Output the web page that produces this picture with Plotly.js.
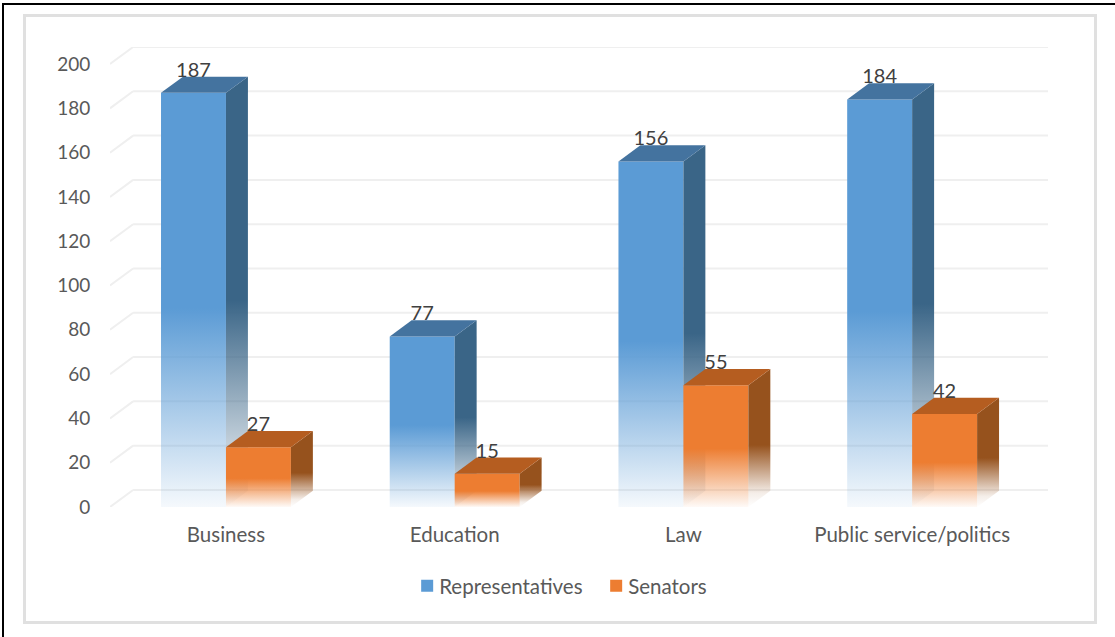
<!DOCTYPE html>
<html>
<head>
<meta charset="utf-8">
<script src="https://cdn.plot.ly/plotly-3.0.1.min.js"></script>
<style>
html,body{margin:0;padding:0;background:#fff;width:1115px;height:637px;overflow:hidden}
#outer{position:absolute;left:2px;top:3px;width:1111px;height:632px;border-left:2px solid #000;border-top:2px solid #000;border-right:1px solid #555;border-bottom:1px solid #555}
#inner{position:absolute;left:23px;top:14px;width:1068px;height:604px;border:3px solid #e0e0e0}
#chart{position:absolute;left:0;top:0;width:1115px;height:637px}
#defs{position:absolute;width:0;height:0}
</style>
</head>
<body>
<div id="outer"></div>
<div id="inner"></div>
<svg id="defs"><defs>
<linearGradient id="gRep" x1="0" y1="0" x2="0" y2="1"><stop offset="0.52" stop-color="#5B9BD5"/><stop offset="1" stop-color="#5B9BD5" stop-opacity="0.06"/></linearGradient>
<linearGradient id="gSen" x1="0" y1="0" x2="0" y2="1"><stop offset="0.52" stop-color="#ED7D31"/><stop offset="1" stop-color="#ED7D31" stop-opacity="0.04"/></linearGradient>
<linearGradient id="gRepSide" x1="0" y1="0" x2="0" y2="1"><stop offset="0.52" stop-color="#3A6587"/><stop offset="1" stop-color="#3A6587" stop-opacity="0"/></linearGradient>
<linearGradient id="gSenSide" x1="0" y1="0" x2="0" y2="1"><stop offset="0.55" stop-color="#96521D"/><stop offset="0.9" stop-color="#96521D" stop-opacity="0.1"/><stop offset="1" stop-color="#96521D" stop-opacity="0"/></linearGradient>
</defs></svg>
<div id="chart"></div>
<script>
const categories = ['Business', 'Education', 'Law', 'Public service/politics'];
const representatives = [187, 77, 156, 184];
const senators = [27, 15, 55, 42];
const yTicks = [0, 20, 40, 60, 80, 100, 120, 140, 160, 180, 200];

const barW = 0.284, depthX = 0.096, depthY = 7.3, xRange = [-0.507, 3.594], yRange = [0, 207.7];
const xs = categories.map((_, i) => i);

function poly(px, py, color, ax, meta) {
  return {x: px, y: py, type: 'scatter', mode: 'lines', fill: 'toself', fillcolor: color,
    line: {width: 0}, showlegend: false, hoverinfo: 'skip', xaxis: ax[0], yaxis: ax[1], meta: meta};
}
function series3d(values, offset, name, frontColor, topColor, sideColor, ax, sideMeta) {
  const out = [{type: 'bar', name: name, x: xs, y: values, width: barW, offset: offset,
    marker: {color: frontColor, line: {width: 0}}, xaxis: ax[0], yaxis: ax[1], meta: name}];
  values.forEach((v, i) => {
    const l = i + offset, r = l + barW;
    out.push(poly([r, r + depthX, r + depthX, r, r], [0, depthY, v + depthY, v, 0], sideColor, ax, sideMeta));
    out.push(poly([l, l + depthX, r + depthX, r, l], [v, v + depthY, v + depthY, v, v], topColor, ax, 'top'));
  });
  return out;
}
const A1 = ['x', 'y'], A2 = ['x2', 'y2'];
const labelTrace = {
  type: 'scatter', mode: 'text', xaxis: 'x2', yaxis: 'y2', showlegend: false, hoverinfo: 'skip',
  x: xs.map(i => i - barW / 2).concat(xs.map(i => i + barW / 2)),
  y: representatives.concat(senators).map(v => v + 9.5),
  text: representatives.concat(senators).map(String),
  textposition: 'middle center',
  textfont: {family: 'Lato, sans-serif', size: 20, color: '#404040'}
};
const traces = [].concat(
  series3d(representatives, -barW, 'Representatives', '#5B9BD5', '#44739F', '#3A6587', A1, 'repSide'),
  series3d(senators, 0, 'Senators', '#ED7D31', '#B55D20', '#96521D', A2, 'senSide'),
  [labelTrace]
);

const gridShapes = [];
yTicks.forEach(v => {
  const line = {color: '#EFEFEF', width: 2};
  gridShapes.push({type: 'line', layer: 'below', xref: 'x', yref: 'y', x0: xRange[0], x1: xRange[0] + depthX + 0.005, y0: v, y1: v + depthY + 0.4, line: line});
  gridShapes.push({type: 'line', layer: 'below', xref: 'x', yref: 'y', x0: xRange[0] + depthX + 0.005, x1: xRange[1], y0: v + depthY + 0.4, y1: v + depthY + 0.4, line: line});
});

const layout = {
  width: 1115, height: 637,
  margin: {l: 110, r: 67, t: 47, b: 130, pad: 0},
  paper_bgcolor: 'rgba(0,0,0,0)', plot_bgcolor: 'rgba(0,0,0,0)',
  font: {family: 'Lato, sans-serif', color: '#595959'},
  barmode: 'overlay',
  showlegend: true,
  legend: {orientation: 'h', x: 0.358, xref: 'container', y: 0.08, yref: 'container', xanchor: 'left', yanchor: 'middle',
    entrywidth: 144, entrywidthmode: 'pixels', font: {family: 'Lato, sans-serif', size: 20.5, color: '#595959'}, bgcolor: 'rgba(0,0,0,0)', traceorder: 'normal'},
  xaxis: {type: 'linear', range: xRange, tickmode: 'array', tickvals: xs, ticktext: categories,
    showgrid: false, zeroline: false, showline: false, ticks: 'outside', ticklen: 9, tickcolor: 'rgba(0,0,0,0)',
    tickfont: {family: 'Lato, sans-serif', size: 20.5, color: '#595959'}, fixedrange: true},
  yaxis: {range: yRange, tickmode: 'array', tickvals: yTicks, showgrid: false, zeroline: false, showline: false,
    ticks: 'outside', ticklen: 15, tickcolor: 'rgba(0,0,0,0)',
    tickfont: {family: 'Lato, sans-serif', size: 19, color: '#595959'}, fixedrange: true},
  xaxis2: {overlaying: 'x', range: xRange, visible: false, anchor: 'y2', fixedrange: true},
  yaxis2: {overlaying: 'y', range: yRange, visible: false, anchor: 'x2', fixedrange: true},
  shapes: gridShapes
};

Plotly.newPlot('chart', traces, layout, {displayModeBar: false}).then(gd => {
  const fills = {repSide: 'gRepSide', senSide: 'gSenSide'};
  const fronts = {Representatives: 'gRep', Senators: 'gSen'};
  gd.querySelectorAll('.scatterlayer .trace').forEach(el => {
    const m = el.__data__ && el.__data__[0] && el.__data__[0].trace && el.__data__[0].trace.meta;
    if (fills[m]) { const p = el.querySelector('.js-fill'); if (p) p.style.fill = 'url(#' + fills[m] + ')'; }
  });
  gd.querySelectorAll('.barlayer .trace').forEach(el => {
    const m = el.__data__ && el.__data__[0] && el.__data__[0].trace && el.__data__[0].trace.meta;
    if (fronts[m]) el.querySelectorAll('.point path').forEach(p => { p.style.fill = 'url(#' + fronts[m] + ')'; });
  });
  gd.querySelectorAll('.legend .traces').forEach(el => {
    const m = el.__data__ && el.__data__[0] && el.__data__[0][0] && el.__data__[0][0].trace && el.__data__[0][0].trace.meta;
    const s = el.querySelector('.legendsymbols');
    if (s) s.setAttribute('transform', 'translate(8,0)');
    const p = el.querySelector('.legendbar path, .legendpoints path');
    if (p && fronts[m]) p.style.fill = 'url(#' + fronts[m] + ')';
  });
});
</script>
</body>
</html>
